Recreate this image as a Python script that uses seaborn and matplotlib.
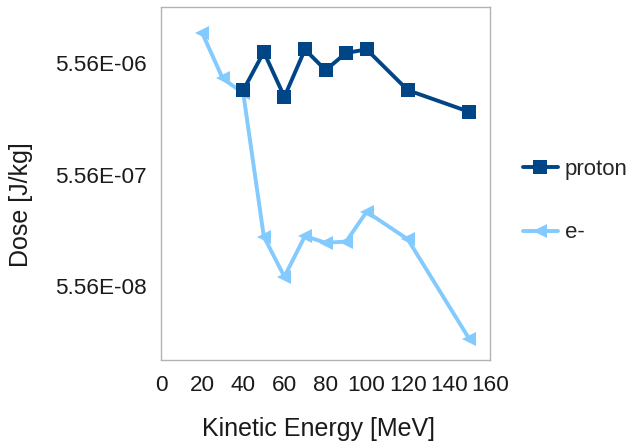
import pandas as pd
import matplotlib
matplotlib.use("Agg")
import matplotlib.pyplot as plt
import matplotlib.ticker as mticker
import seaborn as sns

# data
proton_energy = [40, 50, 60, 70, 80, 90, 100, 120, 150]
proton_dose = [3.18e-6, 7.0e-6, 2.77e-6, 7.38e-6, 4.81e-6, 6.87e-6, 7.38e-6, 3.18e-6, 2.03e-6]

electron_energy = [20, 30, 40, 50, 60, 70, 80, 90, 100, 120, 150]
electron_dose = [1.04e-5, 4.05e-6, 2.99e-6, 1.54e-7, 6.75e-8, 1.56e-7, 1.36e-7, 1.39e-7, 2.58e-7, 1.46e-7, 1.85e-8]

y_ticks = [5.56e-8, 5.56e-7, 5.56e-6]
y_tick_labels = ["5.56E-08", "5.56E-07", "5.56E-06"]

df = pd.concat([
    pd.DataFrame({"energy": proton_energy, "dose": proton_dose, "particle": "proton"}),
    pd.DataFrame({"energy": electron_energy, "dose": electron_dose, "particle": "e-"}),
])

sns.set_style("white")
plt.rcParams["font.family"] = ["Liberation Sans", "DejaVu Sans"]

fig = plt.figure(figsize=(6.28, 4.45), dpi=100)
ax = fig.add_axes([0.2564, 0.191, 0.5239, 0.793])

sns.lineplot(data=df, x="energy", y="dose", hue="particle", style="particle",
             palette={"proton": "#004586", "e-": "#83caff"},
             markers={"proton": "s", "e-": "<"}, dashes=False,
             linewidth=2.8, markersize=10.5, markeredgewidth=0, ax=ax)
# proton series sits on top of the e- one
ax.lines[0].set_zorder(3)

ax.set_yscale("log")
ax.set_ylim(1.205e-8, 1.77e-5)
ax.set_xlim(0, 160)
ax.set_xticks(range(0, 161, 20))
ax.set_yticks(y_ticks)
ax.set_yticklabels(y_tick_labels)
ax.yaxis.set_minor_locator(mticker.NullLocator())

for s in ax.spines.values():
    s.set_color("#b3b3b3")
    s.set_linewidth(1)
ax.tick_params(axis="both", which="major", direction="out", length=6, width=1,
               color="#b3b3b3", labelsize=16.2, labelcolor="#1a1a1a", pad=4)
ax.tick_params(axis="x", pad=5)

ax.set_xlabel("Kinetic Energy [MeV]", fontsize=18, color="#1a1a1a")
ax.set_ylabel("Dose [J/kg]", fontsize=18, color="#1a1a1a")
ax.yaxis.set_label_coords(-0.389, 0.44)
ax.xaxis.set_label_coords(0.48, -0.162)

handles, labels = ax.get_legend_handles_labels()
leg = ax.legend(handles, labels, loc="center left", bbox_to_anchor=(1.072, 0.45),
                frameon=False, fontsize=16, labelspacing=1.9, handlelength=1.6,
                handletextpad=0.3, borderaxespad=0)

fig.savefig("out.png", dpi=100)
